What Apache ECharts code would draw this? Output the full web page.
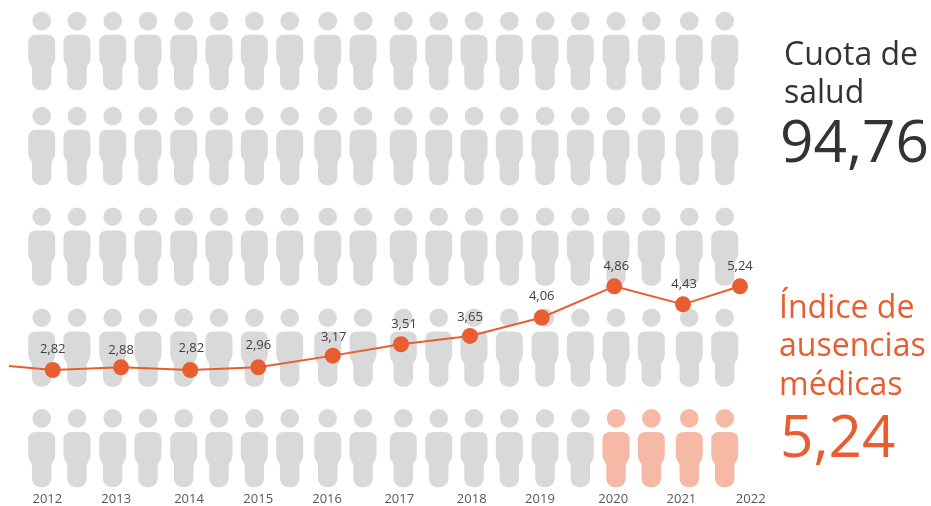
<!DOCTYPE html>
<html lang="es">
<head>
<meta charset="utf-8">
<style>html,body{margin:0;padding:0;background:#fff}#c{width:931px;height:506px}</style>
<script src="https://cdn.jsdelivr.net/npm/echarts@6/dist/echarts.min.js"></script>
</head>
<body>
<div id="c"></div>
<script>
// Data
const years = [2012,2013,2014,2015,2016,2017,2018,2019,2020,2021,2022];
const absenceIndex = [2.82,2.88,2.82,2.96,3.17,3.51,3.65,4.06,4.86,4.43,5.24];
// Height of each marker as drawn in the picture (differs from its label for a few points)
const drawnHeight = [2.82,2.885,2.82,2.885,3.17,3.447,3.65,4.10,4.86,4.42,4.86];
// Where each marker sits along the time axis
const drawnTime = [2012.077,2013.048,2014.034,2015.001,2016.06,2017.031,2018.013,2019.033,2020.065,2021.043,2021.853];
const leadIn = [2011.455,2.917];
const healthShare = '94,76';
const currentIndex = '5,24';
const tickTime = [2012,2012.98,2014.016,2015,2015.98,2017.007,2018.037,2019.008,2020.05,2021.02,2022.006];
// Pictogram layout: 5 rows x 20 columns, last four of the bottom row highlighted
const personColumns = [2011.92,2012.422,2012.93,2013.432,2013.94,2014.442,2014.945,2015.448,2015.989,2016.491,2017.064,2017.568,2018.07,2018.572,2019.08,2019.582,2020.09,2020.592,2021.132,2021.636];
const personRows = [51,146,246.6,347.6,448.2];
const highlighted = 4;
const labelNudgeY = [-1,3,-2,-2,2,0,1,-1,0,0,0];
const labelNudgeX = [0,0,1,0,1,3,0,0,2,1,0];

const PERSON = 'path://M13.5 0A9.3 9.3 0 1 1 13.5 18.6A9.3 9.3 0 1 1 13.5 0ZM8 23H19Q27 23 27 31V46Q27 49 25.5 51.5L24 54Q23.2 55.5 23.2 58V69.3C23.2 74.8 19 78.3 14.5 78.3H12.5C8 78.3 3.8 74.8 3.8 69.3V58Q3.8 55.5 3 54L1.5 51.5Q0 49 0 46V31Q0 23 8 23Z';
const FONT = '"Open Sans","Noto Sans",sans-serif';
const ORANGE = '#e95e30', DARK = '#333333';

const grey = [], light = [];
personRows.forEach((r, ri) => personColumns.forEach((c, ci) => {
  const isHi = ri === personRows.length - 1 && ci >= personColumns.length - highlighted;
  (isHi ? light : grey).push([c, r]);
}));

const lineData = [{value: leadIn, symbol: 'none', label: {show: false}}].concat(
  years.map((y, i) => ({
    value: [drawnTime[i], drawnHeight[i]],
    label: {
      show: true, position: [8 + labelNudgeX[i], -12 + labelNudgeY[i]], align: 'center', verticalAlign: 'middle',
      formatter: absenceIndex[i].toFixed(2).replace('.', ','),
      fontFamily: FONT, fontSize: 13, color: '#404040'
    }
  }))
);

const people = (data, color, name) => ({
  name, type: 'scatter', xAxisIndex: 0, yAxisIndex: 1, data, silent: true,
  symbol: PERSON, symbolSize: [27, 78.3], itemStyle: {color, opacity: 1}, z: 1,
  animation: false
});

const txt = (text, x, y, size, color) => ({
  type: 'text', x, y, silent: true,
  style: {text, x: 0, y: 0, fontFamily: FONT, fontSize: size, fill: color, verticalAlign: 'middle', align: 'left'}
});

const chart = echarts.init(document.getElementById('c'), null, {renderer: 'canvas'});
chart.setOption({
  animation: false,
  backgroundColor: '#fff',
  grid: {left: 0, top: 0, width: 890.9, height: 490, containLabel: false, outerBoundsMode: 'none'},
  xAxis: {
    type: 'value', min: 2011.327, max: 2024,
    splitLine: {show: false}, axisLine: {show: false}, axisTick: {show: false},
    axisLabel: {
      show: true, customValues: tickTime, margin: 3, hideOverlap: false,
      showMinLabel: true, showMaxLabel: true,
      formatter: v => String(Math.round(v)),
      fontFamily: FONT, fontSize: 13, color: '#595959'
    }
  },
  yAxis: [
    {type: 'value', min: -0.105, max: 11.838, show: false, splitLine: {show: false}},
    {type: 'value', min: 0, max: 490, inverse: true, show: false, splitLine: {show: false}}
  ],
  series: [
    people(grey, '#d9d9d9', 'Cuota de salud'),
    people(light, '#f6b9a5', 'Índice destacado'),
    {
      name: 'Índice de ausencias médicas', type: 'line', xAxisIndex: 0, yAxisIndex: 0,
      data: lineData, symbol: 'circle', symbolSize: 16, showSymbol: true, showAllSymbol: true,
      lineStyle: {color: ORANGE, width: 2}, itemStyle: {color: ORANGE},
      z: 3, silent: true, clip: false, labelLayout: {hideOverlap: false}
    }
  ],
  graphic: [
    txt('Cuota de', 784, 56, 32, DARK),
    txt('salud', 784, 94, 32, DARK),
    txt(healthShare, 780, 145, 58.5, DARK),
    txt('Índice de', 779, 309, 32, ORANGE),
    txt('ausencias', 779, 347, 32, ORANGE),
    txt('médicas', 779, 386, 32, ORANGE),
    txt(currentIndex, 780, 440, 58.5, ORANGE)
  ]
});
</script>
</body>
</html>
